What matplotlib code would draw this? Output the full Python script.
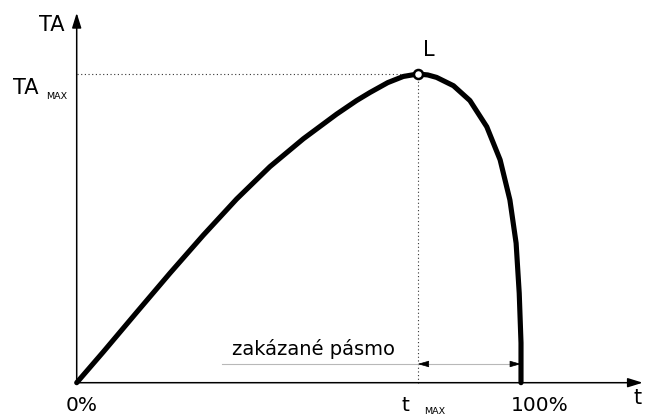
import matplotlib
matplotlib.use("Agg")
import matplotlib.pyplot as plt

# curve: t in % of life, TA relative to TA_max
t_vals = [0, 6.0, 13.5, 21.0, 28.5, 36.0, 43.5, 51.0, 58.5, 63.0, 66.0, 70.0, 73.5, 76.75,
          79.0, 81.0, 84.8, 88.5, 92.3, 95.3, 97.5, 98.9, 99.6, 100.0, 100.0]
ta_vals = [0, 0.100, 0.228, 0.355, 0.478, 0.595, 0.700, 0.790, 0.870, 0.914, 0.940, 0.972, 0.992, 1.0,
           0.997, 0.989, 0.962, 0.914, 0.829, 0.722, 0.592, 0.452, 0.290, 0.129, 0.0]
t_max = 76.75
ta_max = 1.0
band_label = "zakázané pásmo"

fig = plt.figure(figsize=(6.46, 4.16), dpi=100)
ax = fig.add_axes([0, 0, 1, 1])
# pixel mapping: x=0 -> 76.7px, x=100 -> 521px ; y=0 -> 382.7px, y=1 -> 74px
ax.set_xlim(-76.7 / 4.443, (646 - 76.7) / 4.443)
ax.set_ylim(-(416 - 382.7) / 308.7, 382.7 / 308.7)
ax.axis("off")

font = "DejaVu Sans"

# axes with arrows
ax.annotate("", xy=(0, 1.198), xytext=(0, 0),
            arrowprops=dict(arrowstyle="-|>,head_length=0.9,head_width=0.28", lw=1.1, color="black",
                            shrinkA=0, shrinkB=0))
ax.annotate("", xy=(127.4, 0), xytext=(0, 0),
            arrowprops=dict(arrowstyle="-|>,head_length=0.9,head_width=0.28", lw=1.1, color="black",
                            shrinkA=0, shrinkB=0))

# dotted guides
ax.plot([0, t_max], [ta_max, ta_max], color="#333333", lw=0.8, ls=(0, (1, 2.3)))
ax.plot([t_max, t_max], [0, ta_max], color="#333333", lw=0.8, ls=(0, (1, 2.3)))

# forbidden band line and arrow
band_y = 0.0606
ax.plot([32.6, 100], [band_y, band_y], color="#b8b8b8", lw=0.8)
ax.annotate("", xy=(t_max, band_y), xytext=(t_max + 2.0, band_y),
            arrowprops=dict(arrowstyle="-|>,head_length=0.7,head_width=0.2", lw=0.5,
                            color="black", shrinkA=0, shrinkB=0))
ax.annotate("", xy=(100, band_y), xytext=(98.0, band_y),
            arrowprops=dict(arrowstyle="-|>,head_length=0.7,head_width=0.2", lw=0.5,
                            color="black", shrinkA=0, shrinkB=0))

# main curve
ax.plot(t_vals, ta_vals, color="black", lw=3.7, solid_capstyle="round", solid_joinstyle="round")
ax.plot([t_max], [ta_max], marker="o", ms=6.5, mfc="white", mec="black", mew=1.8)

# labels
ax.text(-5.56, 1.159, "TA", fontsize=15, family=font, ha="center", va="center")
ax.text(-11.5, 0.956, "TA", fontsize=15, family=font, ha="center", va="center")
ax.text(-4.4, 0.927, "MAX", fontsize=6.8, family=font, ha="center", va="center")
ax.text(79.2, 1.079, "L", fontsize=15, family=font, ha="center", va="center")
ax.text(1.2, -0.074, "0%", fontsize=14.5, family=font, ha="center", va="center")
ax.text(73.9, -0.074, "t", fontsize=14.5, family=font, ha="center", va="center")
ax.text(80.6, -0.092, "MAX", fontsize=6.8, family=font, ha="center", va="center")
ax.text(104.3, -0.074, "100%", fontsize=14.5, family=font, ha="center", va="center")
ax.text(126.2, -0.05, "t", fontsize=15, family=font, ha="center", va="center")
ax.text(53.4, 0.0897, band_label, fontsize=14, family=font, ha="center", va="baseline")

fig.savefig("out.png", dpi=100)
